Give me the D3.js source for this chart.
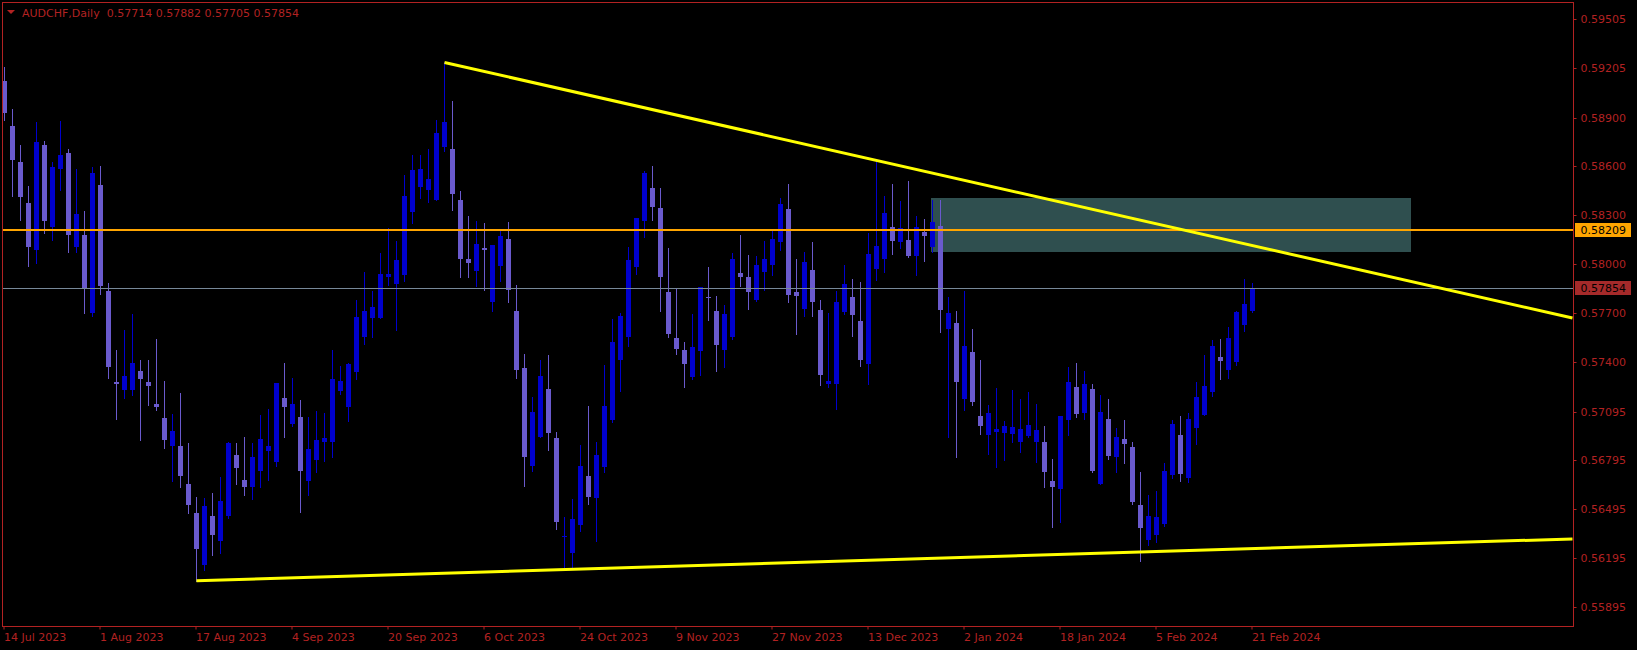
<!DOCTYPE html>
<html><head><meta charset="utf-8">
<script src="https://cdn.jsdelivr.net/npm/d3@7"></script>
<style>body{margin:0;background:#000;overflow:hidden}</style>
</head><body>
<svg id="chart" width="1637" height="650"></svg>
<script>
const symbolTitle = "AUDCHF,Daily";
const opens = [0.59124,0.58848,0.58626,0.58376,0.58089,0.58732,0.58225,0.58585,0.58683,0.58107,0.58179,0.57697,0.58486,0.57835,0.57276,0.57230,0.57230,0.57344,0.57276,0.57142,0.57056,0.56885,0.56885,0.56651,0.56473,0.56155,0.56453,0.56300,0.56453,0.56828,0.56675,0.56629,0.56730,0.56852,0.56787,0.57179,0.57019,0.57061,0.56668,0.56800,0.56905,0.56905,0.57221,0.57124,0.57335,0.57554,0.57672,0.57672,0.57918,0.57879,0.57936,0.58322,0.58471,0.58457,0.58396,0.58721,0.58707,0.58394,0.58032,0.57957,0.58100,0.57769,0.57990,0.58155,0.57712,0.57363,0.56762,0.56936,0.57234,0.56933,0.56326,0.56229,0.56401,0.56699,0.56567,0.56756,0.57045,0.57414,0.57550,0.57980,0.58265,0.58468,0.58346,0.57828,0.57547,0.57473,0.57308,0.57469,0.57797,0.57712,0.57475,0.57550,0.57947,0.57920,0.57782,0.57953,0.57997,0.58137,0.58339,0.57828,0.57725,0.57964,0.57718,0.57264,0.57264,0.57707,0.57797,0.57651,0.57387,0.57973,0.58034,0.58227,0.58133,0.58148,0.58050,0.58197,0.58107,0.58234,0.57604,0.57640,0.57172,0.57460,0.57067,0.56953,0.56971,0.56966,0.56957,0.56905,0.56947,0.56909,0.56907,0.56668,0.56622,0.57045,0.57245,0.57089,0.57234,0.56651,0.57050,0.56815,0.56927,0.56876,0.56521,0.56308,0.56339,0.56405,0.56707,0.56951,0.56690,0.56997,0.57076,0.57212,0.57429,0.57352,0.57400,0.57629,0.57714];
const highs = [0.59210,0.58953,0.58732,0.58480,0.58872,0.58756,0.58626,0.58879,0.58707,0.58585,0.58326,0.58596,0.58602,0.57885,0.57473,0.57596,0.57694,0.57412,0.57412,0.57541,0.57282,0.57080,0.57210,0.56903,0.56569,0.56565,0.56596,0.56694,0.56909,0.56903,0.56938,0.56903,0.57074,0.57111,0.57271,0.57394,0.57302,0.57166,0.57061,0.57098,0.57087,0.57473,0.57374,0.57396,0.57782,0.57951,0.57833,0.58069,0.58219,0.58142,0.58547,0.58670,0.58670,0.58707,0.58885,0.59238,0.59001,0.58449,0.58295,0.58265,0.58254,0.58120,0.58208,0.58258,0.57872,0.57449,0.57183,0.57412,0.57442,0.56968,0.56447,0.56558,0.56890,0.57129,0.56907,0.57381,0.57664,0.57703,0.58107,0.58284,0.58569,0.58602,0.58468,0.58100,0.57852,0.57521,0.57694,0.57861,0.57982,0.57804,0.57749,0.58069,0.58179,0.58056,0.58050,0.58142,0.58210,0.58407,0.58493,0.58032,0.58074,0.58135,0.57780,0.57701,0.57835,0.57995,0.57909,0.57890,0.58192,0.58640,0.58420,0.58493,0.58387,0.58510,0.58295,0.58278,0.58394,0.58394,0.57797,0.57712,0.57835,0.57602,0.57412,0.57137,0.57240,0.57037,0.57227,0.57172,0.57214,0.57142,0.57006,0.56804,0.57067,0.57368,0.57394,0.57344,0.57264,0.57197,0.57172,0.56995,0.57043,0.56907,0.56723,0.56585,0.56607,0.56780,0.57043,0.57067,0.57087,0.57278,0.57442,0.57534,0.57541,0.57611,0.57712,0.57909,0.57882];
const lows = [0.58887,0.58420,0.58273,0.57990,0.58008,0.58194,0.58151,0.58457,0.58072,0.58072,0.57703,0.57681,0.57819,0.57304,0.57052,0.57181,0.57199,0.56922,0.57137,0.57107,0.56874,0.56670,0.56629,0.56475,0.56056,0.56124,0.56216,0.56229,0.56442,0.56651,0.56585,0.56556,0.56633,0.56677,0.56760,0.56940,0.57008,0.56480,0.56585,0.56723,0.56789,0.56817,0.57205,0.57034,0.57293,0.57512,0.57554,0.57672,0.57874,0.57598,0.57894,0.58254,0.58403,0.58383,0.58396,0.58694,0.58335,0.57922,0.57922,0.57868,0.57841,0.57714,0.57896,0.57765,0.57304,0.56640,0.56732,0.56936,0.56861,0.56376,0.56131,0.56131,0.56363,0.56530,0.56300,0.56721,0.57032,0.57223,0.57499,0.57940,0.58164,0.58273,0.57714,0.57554,0.57451,0.57243,0.57293,0.57322,0.57659,0.57346,0.57370,0.57543,0.57868,0.57727,0.57773,0.57839,0.57936,0.58087,0.57765,0.57574,0.57683,0.57683,0.57260,0.57245,0.57111,0.57692,0.57561,0.57376,0.57267,0.57905,0.57949,0.58065,0.58096,0.58043,0.57933,0.58021,0.58074,0.57585,0.56940,0.56817,0.57107,0.57135,0.56960,0.56837,0.56756,0.56800,0.56909,0.56848,0.56940,0.56787,0.56633,0.56387,0.56416,0.56953,0.57063,0.57052,0.56725,0.56651,0.56806,0.56725,0.56782,0.56530,0.56179,0.56278,0.56295,0.56392,0.56686,0.56670,0.56664,0.56898,0.57076,0.57192,0.57297,0.57302,0.57383,0.57589,0.57705];
const closes = [0.58925,0.58642,0.58414,0.58107,0.58749,0.58267,0.58596,0.58670,0.58181,0.58308,0.57854,0.58561,0.57868,0.57370,0.57267,0.57313,0.57394,0.57297,0.57254,0.57124,0.56922,0.56975,0.56701,0.56523,0.56254,0.56514,0.56339,0.56545,0.56903,0.56749,0.56631,0.56815,0.56927,0.56883,0.57271,0.57120,0.57142,0.56732,0.56865,0.56920,0.56933,0.57295,0.57282,0.57387,0.57675,0.57712,0.57736,0.57940,0.57940,0.58026,0.58418,0.58578,0.58585,0.58521,0.58806,0.58872,0.58433,0.58034,0.58004,0.58124,0.58089,0.58118,0.58172,0.57844,0.57352,0.56817,0.57091,0.57313,0.56966,0.56418,0.56330,0.56436,0.56760,0.56572,0.56828,0.57129,0.57521,0.57681,0.58026,0.58284,0.58561,0.58348,0.57922,0.57572,0.57482,0.57389,0.57490,0.57861,0.57795,0.57506,0.57692,0.58032,0.57922,0.57830,0.57995,0.58030,0.58155,0.58370,0.57813,0.57806,0.58012,0.57769,0.57322,0.57282,0.57767,0.57879,0.57690,0.57414,0.58063,0.58111,0.58315,0.58144,0.58223,0.58050,0.58227,0.58175,0.58258,0.57721,0.57701,0.57278,0.57497,0.57151,0.57008,0.57087,0.56988,0.57006,0.56999,0.56988,0.57012,0.56982,0.56721,0.56629,0.57067,0.57276,0.57082,0.57264,0.56732,0.57091,0.56824,0.56938,0.56898,0.56541,0.56383,0.56453,0.56447,0.56730,0.57019,0.56712,0.57050,0.57183,0.57251,0.57497,0.57407,0.57547,0.57705,0.57756,0.57854];

const dateLabels = ["14 Jul 2023","1 Aug 2023","17 Aug 2023","4 Sep 2023","20 Sep 2023","6 Oct 2023","24 Oct 2023","9 Nov 2023","27 Nov 2023","13 Dec 2023","2 Jan 2024","18 Jan 2024","5 Feb 2024","21 Feb 2024"];
const dateTickBars = [0,12,24,36,48,60,72,84,96,108,120,132,144,156];
const priceTicks = [0.59505,0.59205,0.58900,0.58600,0.58300,0.58000,0.57700,0.57400,0.57095,0.56795,0.56495,0.56195,0.55895];

const resistanceLevel = 0.58209;
const bidPrice = 0.57854;
const zoneBars = [115.8, 175.8];
const zonePrices = [0.58406, 0.58075];
const upperTrendBars = [55, 196];
const upperTrendPrices = [0.59238, 0.57669];
const lowerTrendBars = [24, 196];
const lowerTrendPrices = [0.56056, 0.56313];

const RED = "#b22222", BOXRED = "#a52a2a";
const BULL = "#0000cd", BEAR = "#6a5acd";
const FONT = "DejaVu Sans, sans-serif";

const svg = d3.select("#chart");
svg.append("rect").attr("width",1637).attr("height",650).attr("fill","#000");

const PL=2, PT=2, PR=1573, PB=626;
const x = d3.scaleLinear().domain([0,196]).range([4.5,1572.5]);
const y = d3.scaleLinear().domain([0.55895,0.59505]).range([607,19]);

svg.append("defs").append("clipPath").attr("id","plotclip")
  .append("rect").attr("x",PL+1).attr("y",PT+1).attr("width",PR-PL-1).attr("height",PB-PT-1);
const plot = svg.append("g").attr("clip-path","url(#plotclip)");

// zone rectangle
plot.append("rect")
  .attr("x", Math.round(x(zoneBars[0])))
  .attr("y", Math.round(y(zonePrices[0])))
  .attr("width", Math.round(x(zoneBars[1])) - Math.round(x(zoneBars[0])))
  .attr("height", Math.round(y(zonePrices[1])) - Math.round(y(zonePrices[0])))
  .attr("fill","#2f4f4f");

// candles
const bars = opens.map((o,i)=>({i, o, h:highs[i], l:lows[i], c:closes[i]}));
const cg = plot.append("g");
cg.selectAll("line.wick").data(bars).join("line")
  .attr("x1",d=>x(d.i)).attr("x2",d=>x(d.i))
  .attr("y1",d=>Math.round(y(d.h))).attr("y2",d=>Math.round(y(d.l))+1)
  .attr("stroke",d=>d.c>=d.o?BULL:BEAR).attr("stroke-width",1);
cg.selectAll("rect.body").data(bars).join("rect")
  .attr("x",d=>x(d.i)-2.5).attr("width",5)
  .attr("y",d=>Math.round(y(Math.max(d.o,d.c))))
  .attr("height",d=>Math.max(1, Math.round(y(Math.min(d.o,d.c))) - Math.round(y(Math.max(d.o,d.c)))))
  .attr("fill",d=>d.c>=d.o?BULL:BEAR);

// horizontal lines
plot.append("line").attr("x1",PL).attr("x2",PR)
  .attr("y1",Math.round(y(bidPrice))+0.5).attr("y2",Math.round(y(bidPrice))+0.5)
  .attr("stroke","#778899").attr("stroke-width",1);
plot.append("line").attr("x1",PL).attr("x2",PR)
  .attr("y1",Math.round(y(resistanceLevel))).attr("y2",Math.round(y(resistanceLevel)))
  .attr("stroke","#ffa500").attr("stroke-width",2);

// trendlines
function trend(barsA, pricesA){
  const slope = (pricesA[1]-pricesA[0])/(barsA[1]-barsA[0]);
  const endBar = x.domain()[1];
  return [[x(barsA[0]), y(pricesA[0])],[x(endBar), y(pricesA[0]+slope*(endBar-barsA[0]))]];
}
[trend(upperTrendBars, upperTrendPrices), trend(lowerTrendBars, lowerTrendPrices)].forEach(pts=>{
  plot.append("path").attr("d", d3.line()(pts)).attr("stroke","#ffff00").attr("stroke-width",3).attr("fill","none");
});

// frame
svg.append("rect").attr("x",PL+0.5).attr("y",PT+0.5).attr("width",PR-PL).attr("height",PB-PT)
  .attr("fill","none").attr("stroke",RED).attr("stroke-width",1);

// price axis
const ya = svg.append("g").attr("transform",`translate(${PR+0.5},0)`)
  .call(d3.axisRight(y).tickValues(priceTicks).tickSize(3).tickPadding(4).tickFormat(d=>d.toFixed(5)));
ya.select(".domain").remove();
ya.selectAll("line").attr("stroke",RED);
ya.selectAll("text").attr("fill",RED).attr("font-family",FONT).attr("font-size",11);
ya.selectAll(".tick").attr("transform",d=>`translate(0,${Math.round(y(d))+0.5})`);

// date axis
const xa = svg.append("g").attr("transform",`translate(-1,${PB+0.5})`)
  .call(d3.axisBottom(x).tickValues(dateTickBars).tickSize(3).tickPadding(4).tickFormat((d,i)=>dateLabels[i]));
xa.select(".domain").remove();
xa.selectAll("line").attr("stroke",RED);
xa.selectAll("text").attr("fill",RED).attr("font-family",FONT).attr("font-size",11).attr("text-anchor","start");

// price labels
function priceBox(p, bg){
  const yy = Math.round(y(p));
  svg.append("rect").attr("x",PR+2).attr("y",yy-7).attr("width",56).attr("height",14).attr("fill",bg);
  svg.append("text").attr("x",PR+7.5).attr("y",yy+4).attr("fill","#000")
    .attr("font-family",FONT).attr("font-size",11).text(p.toFixed(5));
}
priceBox(resistanceLevel, "#ffa500");
priceBox(bidPrice, BOXRED);

// title
svg.append("path").attr("d", d3.line()([[7,10],[15,10],[11,14]])+"Z").attr("fill",RED);
const last = bars[bars.length-1];
svg.append("text").attr("x",22).attr("y",16.5).attr("fill",RED).attr("font-family",FONT).attr("font-size",11)
  .attr("xml:space","preserve")
  .text(`${symbolTitle}  ${last.o.toFixed(5)} ${last.h.toFixed(5)} ${last.l.toFixed(5)} ${last.c.toFixed(5)}`);
</script>
</body></html>
